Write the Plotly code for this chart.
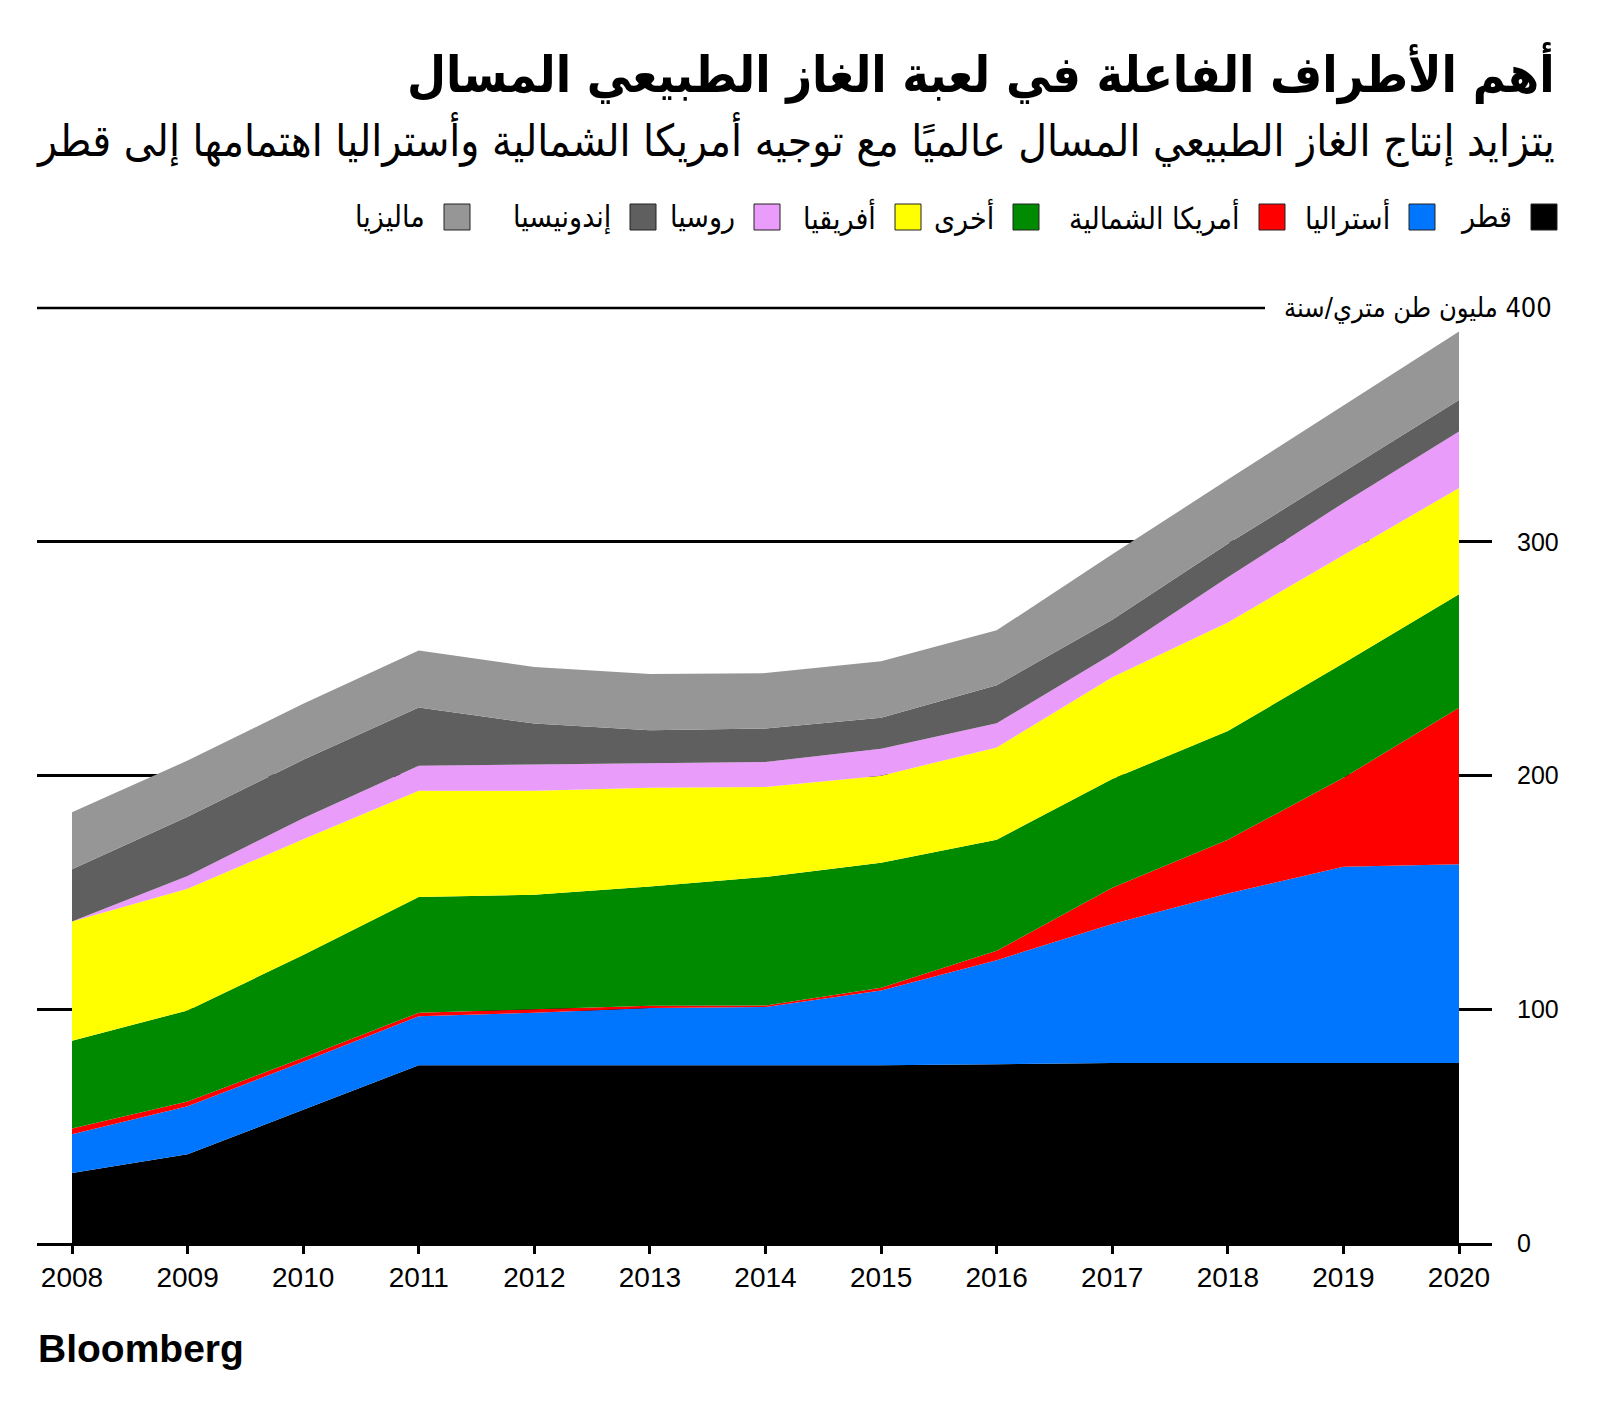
import plotly.graph_objects as go

# ---------------- data ----------------
years = list(range(2008, 2021))
x_tick_labels = [str(y) for y in years]

qatar = [30, 38, 57, 76, 76, 76, 76, 76, 76.5, 77, 77, 77, 77]
australia = [16.5, 20.5, 20.5, 21, 22.5, 24.5, 25, 32, 44.5, 59.5, 72.5, 84, 85]
north_america = [2.5, 2, 1.7, 1.5, 1.5, 1, 0.6, 1.2, 4, 15.5, 23, 38, 67]
other = [37.5, 39, 44, 49.5, 49, 51, 55, 53.5, 47.5, 46.5, 46.5, 49, 48.5]
africa = [51, 52, 49.5, 45.5, 44.5, 42.3, 38.5, 37.2, 39.5, 43.5, 46.5, 46.3, 45.5]
russia = [0, 5.5, 9, 10.7, 11.2, 10.4, 10.7, 11.5, 10.3, 10, 19.3, 22.3, 24.2]
indonesia = [22.4, 25.3, 25, 24.9, 17.5, 14.2, 14.3, 13.3, 16.3, 14.6, 14.3, 13.4, 13.4]
malaysia = [24.4, 24.1, 24, 24.4, 24.2, 24, 23.7, 24.2, 23.5, 28, 27.5, 28.3, 29.4]

series_names = ["قطر", "أستراليا", "أمريكا الشمالية", "أخرى", "أفريقيا", "روسيا", "إندونيسيا", "ماليزيا"]
series_values = [qatar, australia, north_america, other, africa, russia, indonesia, malaysia]

y_tick_vals = [0, 100, 200, 300]
y_tick_text = ["0", "100", "200", "300"]
y_min, y_max = 0, 400
y_top_value = 400
y_top_label = "400 مليون طن متري/سنة"

title_text = "أهم الأطراف الفاعلة في لعبة الغاز الطبيعي المسال"
subtitle_text = "يتزايد إنتاج الغاز الطبيعي المسال عالميًا مع توجيه أمريكا الشمالية وأستراليا اهتمامها إلى قطر"
source_text = "Bloomberg"

# ---------------- styles / layout ----------------
series_colors = ["#000000", "#0076ff", "#ff0000", "#008a00", "#ffff00", "#ea9cfa", "#5f5f5f", "#969696"]
legend_swatch_left = [1531, 1409, 1259, 1013, 895, 754, 630, 444]  # screen px, per legend item

PAGE_OFF = 8  # default body margin of the html page
W, H = 1600 - PAGE_OFF, 1410 - PAGE_OFF
# plot area in screen pixels
PL, PR, PT, PB = 37, 1492, 308, 1243
L = PL - PAGE_OFF
T = PT - PAGE_OFF
R = W - (PR - PAGE_OFF)
B = H - (PB - PAGE_OFF)
plot_w = PR - PL
plot_h = PB - PT


def px(x):
    return (x - PL) / plot_w


def py(y):
    return (PB - y) / plot_h


year_px = (1459 - 72) / 12
x0 = years[0] - (72 - PL) / year_px
x1 = x0 + plot_w / year_px

AR_FONT = "DejaVu Sans Condensed, DejaVu Sans, sans-serif"
NUM_FONT = "Liberation Sans, Arial, sans-serif"
LINE_W = 2.5

fig = go.Figure()
for name, vals, col in zip(series_names, series_values, series_colors):
    fig.add_trace(go.Scatter(
        x=years, y=vals, name=name, mode="lines", stackgroup="one",
        line=dict(width=0, color=col), fillcolor=col,
        hoverinfo="skip", showlegend=False,
    ))

top_frac = (y_top_value - y_min) / (y_max - y_min)

annotations = [
    dict(text=title_text, x=px(1557), y=py(73), xref="paper", yref="paper",
         xanchor="right", yanchor="middle", showarrow=False,
         font=dict(family=AR_FONT, size=50, color="#000", weight="bold")),
    dict(text=subtitle_text, x=px(1557), y=py(139), xref="paper", yref="paper",
         xanchor="right", yanchor="middle", showarrow=False,
         font=dict(family=AR_FONT, size=44, color="#000")),
    dict(text="\u202B" + y_top_label + "\u202C", x=px(1554), y=y_top_value, xref="paper", yref="y",
         xanchor="right", yanchor="middle", showarrow=False,
         font=dict(family=AR_FONT, size=27, color="#000")),
    dict(text="<b>" + source_text + "</b>", x=px(36), y=py(1348), xref="paper", yref="paper",
         xanchor="left", yanchor="middle", showarrow=False,
         font=dict(family=NUM_FONT, size=39, color="#000")),
]

shapes = [
    dict(type="line", xref="paper", yref="paper", x0=0, x1=px(1265), y0=top_frac, y1=top_frac,
         line=dict(color="#000", width=LINE_W), layer="below"),
]

sw = 26
sy0, sy1 = 204, 230
for name, col, left in zip(series_names, series_colors, legend_swatch_left):
    shapes.append(dict(type="rect", xref="paper", yref="paper",
                       x0=px(left), x1=px(left + sw), y0=py(sy1), y1=py(sy0),
                       fillcolor=col, line=dict(color="#222", width=1)))
    annotations.append(dict(text=name, x=px(left - 17), y=py((sy0 + sy1) / 2),
                            xref="paper", yref="paper", xanchor="right", yanchor="middle",
                            showarrow=False, font=dict(family=AR_FONT, size=30, color="#000")))

fig.update_layout(
    width=W, height=H,
    margin=dict(l=L, r=R, t=T, b=B, autoexpand=False),
    paper_bgcolor="white", plot_bgcolor="white",
    showlegend=False,
    annotations=annotations,
    shapes=shapes,
    xaxis=dict(
        range=[x0, x1], tickvals=years, ticktext=x_tick_labels,
        ticks="outside", ticklen=8, tickwidth=LINE_W, tickcolor="#000",
        showline=True, linecolor="#000", linewidth=LINE_W,
        showgrid=False, zeroline=False,
        tickfont=dict(family=NUM_FONT, size=28, color="#000"),
    ),
    yaxis=dict(
        range=[y_min, y_max], side="right",
        tickvals=y_tick_vals, ticktext=y_tick_text,
        showgrid=True, gridcolor="#000", gridwidth=LINE_W,
        zeroline=False, showline=False, ticks="",
        ticklabelstandoff=24,
        tickfont=dict(family=NUM_FONT, size=25, color="#000"),
    ),
)

fig.write_html("out.html")
